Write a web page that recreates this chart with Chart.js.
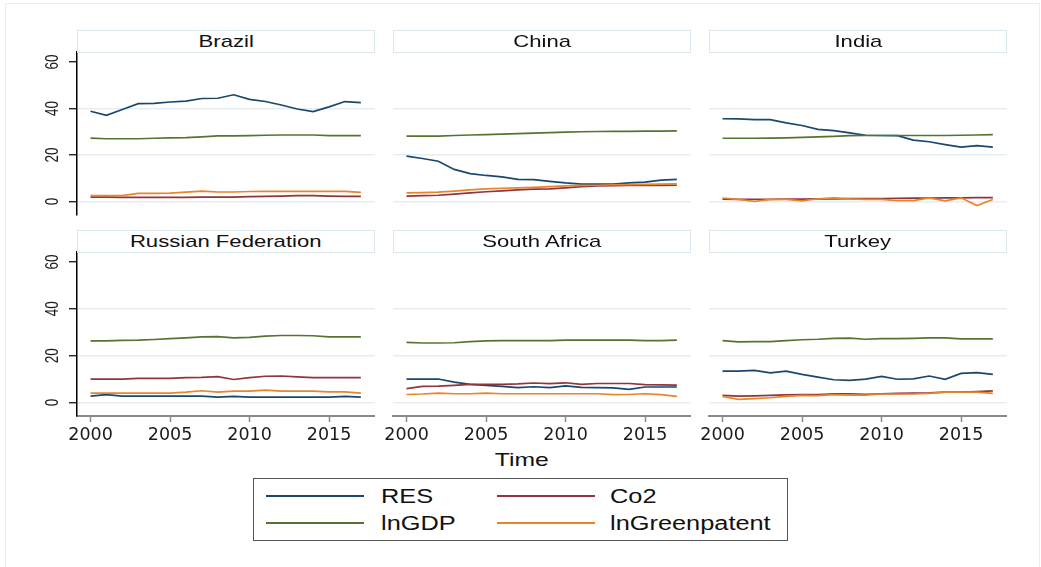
<!DOCTYPE html>
<html>
<head>
<meta charset="utf-8">
<script src="https://cdn.jsdelivr.net/npm/chart.js@4.4.1/dist/chart.umd.min.js"></script>
<style>
    body { margin: 0; background: #fff; width: 1041px; height: 567px; overflow: hidden; position: relative;
           font-family: "Liberation Sans", Arial, sans-serif; color: #111; }
    #frame { position: absolute; left: 5px; top: 3px; width: 1035px; height: 600px; border: 1.5px solid #e8eff2; box-sizing: border-box; }
    canvas { position: absolute; }
    .strip { position: absolute; width: 298px; height: 23px; border: 1.5px solid #dce6ed; box-sizing: border-box; background: #fff;
             display: flex; align-items: center; justify-content: center; font-size: 17px; z-index: 2; }
    .sx { display: inline-block; transform: scaleX(1.3); white-space: nowrap; }
    #xtitle { position: absolute; left: 0; width: 1044px; top: 449px; text-align: center; font-size: 19px; }
    #legend { position: absolute; left: 253px; top: 478px; width: 535px; height: 63px; border: 1.5px solid #555; box-sizing: border-box; }
    .sw { position: absolute; height: 2px; width: 98px; }
    .lab { position: absolute; font-size: 19.5px; transform-origin: left center; transform: scaleX(1.3); white-space: nowrap; line-height: 20px; }
</style>
</head>
<body>
<div id="frame"></div>
<div id="xtitle"><span class="sx">Time</span></div>
<div id="legend"></div>

<script>
var years = [2000, 2001, 2002, 2003, 2004, 2005, 2006, 2007, 2008, 2009, 2010, 2011, 2012, 2013, 2014, 2015, 2016, 2017];
var countries = ["Brazil", "China", "India", "Russian Federation", "South Africa", "Turkey"];
var seriesNames = ["RES", "Co2", "lnGDP", "lnGreenpatent"];
var seriesColors = ["#1a476f", "#90353b", "#55752f", "#e8842a"];
var xTicks = [2000, 2005, 2010, 2015];
var yTicks = [0, 20, 40, 60];

// one row per country, same order as countries
var RES = [
    [38.8, 37.1, 39.6, 42.1, 42.2, 42.8, 43.2, 44.3, 44.4, 45.9, 43.9, 43.0, 41.5, 39.8, 38.7, 40.7, 43.0, 42.5],
    [19.5, 18.5, 17.3, 13.8, 12.0, 11.2, 10.6, 9.5, 9.4, 8.7, 8.0, 7.5, 7.5, 7.5, 8.0, 8.3, 9.2, 9.5],
    [35.6, 35.5, 35.2, 35.2, 33.8, 32.7, 31.0, 30.5, 29.5, 28.5, 28.4, 28.3, 26.4, 25.7, 24.5, 23.4, 24.0, 23.4],
    [2.7, 3.3, 2.7, 2.7, 2.7, 2.7, 2.7, 2.7, 2.3, 2.6, 2.3, 2.3, 2.3, 2.3, 2.3, 2.3, 2.6, 2.3],
    [10.0, 10.0, 10.0, 8.7, 7.7, 7.3, 6.9, 6.3, 6.7, 6.3, 7.1, 6.4, 6.3, 6.2, 5.6, 6.6, 6.6, 6.6],
    [13.4, 13.4, 13.7, 12.6, 13.4, 12.0, 10.8, 9.7, 9.4, 10.0, 11.1, 9.9, 10.1, 11.3, 9.9, 12.4, 12.7, 12.0]
];
var CO2 = [
    [1.9, 1.9, 1.8, 1.8, 1.8, 1.8, 1.8, 1.9, 1.9, 1.9, 2.1, 2.2, 2.3, 2.5, 2.5, 2.3, 2.2, 2.2],
    [2.3, 2.5, 2.7, 3.2, 3.7, 4.2, 4.6, 5.0, 5.3, 5.4, 5.9, 6.4, 6.7, 6.8, 6.9, 6.9, 6.9, 7.0],
    [1.0, 0.9, 0.9, 0.9, 1.0, 1.0, 1.1, 1.1, 1.2, 1.2, 1.3, 1.4, 1.5, 1.5, 1.6, 1.6, 1.7, 1.7],
    [10.0, 10.0, 10.0, 10.3, 10.3, 10.3, 10.6, 10.7, 11.0, 9.8, 10.6, 11.2, 11.3, 10.9, 10.6, 10.6, 10.6, 10.6],
    [5.9, 6.9, 7.0, 7.3, 7.7, 7.7, 7.7, 7.9, 8.3, 8.0, 8.4, 7.7, 8.1, 8.1, 8.1, 7.6, 7.5, 7.4],
    [3.0, 2.7, 2.8, 3.0, 3.2, 3.3, 3.4, 3.7, 3.7, 3.5, 3.7, 3.9, 4.0, 4.1, 4.4, 4.4, 4.6, 4.9]
];
var LNGDP = [
    [27.3, 27.0, 27.0, 27.0, 27.2, 27.4, 27.5, 27.8, 28.2, 28.2, 28.3, 28.5, 28.6, 28.6, 28.6, 28.3, 28.3, 28.3],
    [28.1, 28.1, 28.1, 28.4, 28.6, 28.8, 29.0, 29.2, 29.4, 29.6, 29.8, 30.0, 30.1, 30.2, 30.2, 30.3, 30.3, 30.4],
    [27.2, 27.2, 27.2, 27.3, 27.4, 27.6, 27.8, 28.0, 28.3, 28.4, 28.4, 28.4, 28.4, 28.4, 28.4, 28.5, 28.6, 28.8],
    [26.3, 26.3, 26.5, 26.6, 26.9, 27.3, 27.6, 28.0, 28.1, 27.6, 27.8, 28.3, 28.6, 28.6, 28.5, 28.0, 28.0, 28.0],
    [25.7, 25.4, 25.4, 25.5, 26.0, 26.3, 26.4, 26.4, 26.4, 26.4, 26.6, 26.6, 26.6, 26.6, 26.6, 26.4, 26.4, 26.6],
    [26.4, 25.9, 26.0, 26.0, 26.4, 26.8, 27.0, 27.4, 27.5, 27.0, 27.3, 27.3, 27.4, 27.6, 27.6, 27.2, 27.2, 27.2]
];
var LNGREEN = [
    [2.5, 2.5, 2.5, 3.5, 3.5, 3.6, 4.0, 4.5, 4.1, 4.1, 4.3, 4.4, 4.4, 4.4, 4.4, 4.4, 4.4, 3.9],
    [3.7, 3.8, 4.0, 4.5, 5.0, 5.4, 5.7, 5.9, 6.1, 6.4, 6.7, 6.9, 7.0, 7.2, 7.3, 7.4, 7.5, 7.6],
    [1.5, 0.9, 0.0, 0.9, 0.9, 0.3, 1.2, 1.6, 1.1, 0.9, 0.9, 0.4, 0.4, 1.6, 0.3, 1.6, -1.7, 0.9],
    [4.0, 4.0, 4.0, 4.0, 4.0, 4.0, 4.4, 5.0, 4.4, 4.8, 4.8, 5.3, 4.8, 4.8, 4.8, 4.5, 4.5, 4.0],
    [3.4, 3.6, 4.0, 3.7, 3.7, 4.0, 3.7, 3.7, 3.7, 3.7, 3.7, 3.7, 3.7, 3.3, 3.4, 3.7, 3.3, 2.6],
    [2.6, 1.3, 1.6, 2.0, 2.6, 3.0, 2.9, 3.3, 3.1, 3.1, 3.6, 3.6, 3.6, 3.9, 4.4, 4.4, 4.4, 3.9]
];
var allSeries = [RES, CO2, LNGDP, LNGREEN];

// layout of the 2x3 grid (plot regions)
var colLeft = [77, 393, 709];
var plotW = 298;
var rowTop = [52, 252];
var rowH = [163, 164];
var pad = 20, xAxisH = 29, gutter = 40;

// stata style vertical y labels, placed with the y scale
var verticalYLabels = {
    id: "verticalYLabels",
    afterDraw: function (chart, args, opts) {
        if (!opts.show) return;
        var ctx = chart.ctx, y = chart.scales.y;
        ctx.save();
        ctx.fillStyle = "#1a1a1a";
        ctx.font = "13.5px 'Liberation Sans'";
        ctx.textAlign = "center";
        ctx.textBaseline = "middle";
        yTicks.forEach(function (v) {
            ctx.save();
            ctx.translate(y.right - 24, y.getPixelForValue(v));
            ctx.rotate(-Math.PI / 2);
            ctx.scale(1, 1.35);
            ctx.fillText(String(v), 0, 0);
            ctx.restore();
        });
        ctx.restore();
    }
};

function makePanel(i) {
    var col = i % 3, row = Math.floor(i / 3);
    var left = col == 0 ? 0 : colLeft[col] - gutter;
    var width = colLeft[col] + plotW - left;
    var top = rowTop[row] - pad;
    var height = pad + rowH[row] + (row == 1 ? xAxisH : pad);

    var strip = document.createElement("div");
    strip.className = "strip";
    strip.style.left = colLeft[col] + "px";
    strip.style.top = (rowTop[row] - 22) + "px";
    strip.innerHTML = '<span class="sx">' + countries[i] + '</span>';
    document.body.appendChild(strip);

    var cv = document.createElement("canvas");
    cv.width = width;
    cv.height = height;
    cv.style.left = left + "px";
    cv.style.top = top + "px";
    document.body.appendChild(cv);

    var datasets = [];
    for (var s = 0; s < seriesNames.length; s++) {
        datasets.push({
            label: seriesNames[s],
            data: years.map(function (y, k) { return { x: y, y: allSeries[s][i][k] }; }),
            borderColor: seriesColors[s],
            borderWidth: 1.7,
            pointRadius: 0,
            tension: 0,
            order: seriesNames.length - s
        });
    }

    new Chart(cv, {
        type: "line",
        data: { datasets: datasets },
        plugins: [verticalYLabels],
        options: {
            responsive: false,
            animation: false,
            events: [],
            layout: { padding: { left: col == 0 ? 0 : gutter, right: 0, top: pad, bottom: row == 1 ? 0 : pad } },
            plugins: {
                legend: { display: false },
                tooltip: { enabled: false },
                verticalYLabels: { show: col == 0 }
            },
            scales: {
                x: {
                    type: "linear",
                    display: row == 1,
                    min: 1999.15,
                    max: 2017.89,
                    afterBuildTicks: function (s) { s.ticks = xTicks.map(function (v) { return { value: v }; }); },
                    afterFit: function (s) { s.height = row == 1 ? xAxisH : 0; },
                    border: { display: true, color: "#8a8a8a", width: 2 },
                    grid: { drawOnChartArea: false, drawTicks: true, tickLength: 6, tickColor: "#8a8a8a", tickWidth: 1.5 },
                    ticks: {
                        maxRotation: 0,
                        padding: 3,
                        color: "#1a1a1a",
                        font: { family: "DejaVu Sans", size: 17.5 },
                        callback: function (v) { return String(v); }
                    }
                },
                y: {
                    type: "linear",
                    min: -5.8,
                    max: 64.3,
                    afterBuildTicks: function (s) { s.ticks = yTicks.map(function (v) { return { value: v }; }); },
                    afterFit: function (s) { s.width = col == 0 ? colLeft[0] : 0; },
                    border: { display: col == 0, color: "#000", width: 1.5 },
                    grid: {
                        color: function (c) { return c.tick && c.tick.value == 60 ? "rgba(0,0,0,0)" : "#e6edf1"; },
                        lineWidth: 1.5,
                        drawTicks: col == 0,
                        tickLength: 8,
                        tickColor: "#000",
                        tickWidth: 1.2
                    },
                    ticks: { display: false }
                }
            }
        }
    });
}

for (var i = 0; i < countries.length; i++) {
    makePanel(i);
}

// legend, two columns
var legend = document.getElementById("legend");
var swLeft = [12, 243], labLeft = [127, 356], rowY = [17, 44];
for (var s = 0; s < seriesNames.length; s++) {
    var c = s % 2, r = Math.floor(s / 2);
    var sw = document.createElement("div");
    sw.className = "sw";
    sw.style.left = swLeft[c] + "px";
    sw.style.top = (rowY[r] - 1) + "px";
    sw.style.background = seriesColors[s];
    legend.appendChild(sw);
    var lab = document.createElement("div");
    lab.className = "lab";
    lab.style.left = labLeft[c] + "px";
    lab.style.top = (rowY[r] - 10) + "px";
    lab.textContent = seriesNames[s];
    legend.appendChild(lab);
}
</script>
</body>
</html>
